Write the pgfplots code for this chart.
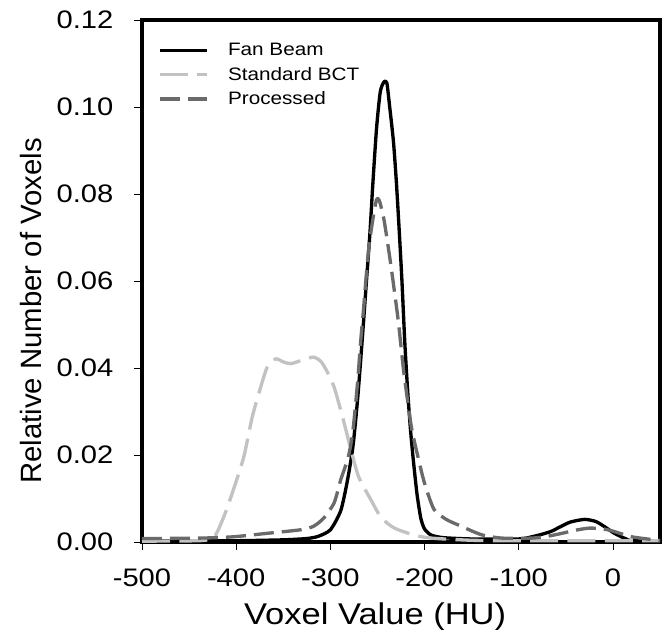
\documentclass[border=0pt]{standalone}
\usepackage{pgfplots}
\pgfplotsset{compat=1.18}
\usepackage{fontspec}
\setmainfont{Liberation Sans}
\newfontfamily\hfont[FakeStretch=1.15]{Liberation Sans}
\definecolor{bctgray}{HTML}{C2C2C2}
\definecolor{procgray}{HTML}{6A6A6A}
\begin{document}
\begin{tikzpicture}
\begin{axis}[
  name=ax,
  scale only axis,
  width=388.5pt, height=391.5pt,
  xmin=-500, xmax=50, ymin=0, ymax=0.12,
  xtick={-500,-400,-300,-200,-100,0},
  xticklabels={-500,-400,-300,-200,-100,0},
  ytick={0,0.02,0.04,0.06,0.08,0.10,0.12},
  yticklabels={0.00,0.02,0.04,0.06,0.08,0.10,0.12},
  tick pos=left, tick align=outside,
  major tick length=6pt,
  tick style={black, line width=0.6pt},
  axis line style={line width=3pt},
  ticklabel style={font=\hfont\fontsize{19}{21}\selectfont},
  xticklabel style={yshift=-10.5pt},
  yticklabel style={xshift=-12pt},
  xlabel={Voxel Value (HU)},
  ylabel={Relative Number of Voxels},
  xlabel style={font=\hfont\fontsize{22.5}{24}\selectfont, at={(axis description cs:0.45,-0.1575)}, anchor=base},
  ylabel style={font=\fontsize{22}{24}\selectfont, at={(axis description cs:-0.214,0.4425)}, anchor=center, rotate=0},
  legend style={at={(axis description cs:0.026,0.966)}, anchor=north west,
    draw=none, fill=none, font=\hfont\fontsize{13.5}{15}\selectfont,
    row sep=3pt, inner sep=2pt},
  legend cell align=left,
  legend image code/.code={\draw[#1] (0pt,0pt) -- (35pt,0pt); \path[draw=none] (0pt,0pt) -- (49pt,0pt);},
  every axis plot/.append style={line width=2.5pt, line join=round},
]
\addplot[black, smooth, tension=0.4] coordinates {
(-500,0.0003) (-450,0.0003) (-400,0.0003) (-350,0.0005) (-325,0.0008)
(-313,0.0013) (-300,0.0028) (-289,0.0072) (-282,0.014) (-276,0.022)
(-271,0.033) (-266,0.047) (-262,0.059) (-258,0.071) (-255,0.082)
(-251,0.095) (-247,0.1035) (-243,0.1058) (-240,0.1055) (-237,0.100)
(-233,0.092) (-230,0.083) (-227,0.072) (-224,0.060) (-221,0.046)
(-218,0.035) (-215,0.026) (-212,0.019) (-208,0.011) (-204,0.0055)
(-200,0.003) (-193,0.0016) (-180,0.001) (-150,0.0007) (-100,0.0007)
(-86,0.0012) (-75,0.0018) (-65,0.0025) (-55,0.0036) (-45,0.0046)
(-30,0.0052) (-18,0.0047) (-8,0.0034) (0,0.0022) (6,0.0015)
(13,0.0008) (20,0.0003) (50,0.0002)
};
\addlegendentry{Fan Beam}
\addplot[bctgray, smooth, tension=0.4, dash pattern=on 21pt off 7pt] coordinates {
(-500,0.0002) (-440,0.0003) (-425,0.0008) (-419,0.0028) (-411,0.007)
(-403,0.012) (-392,0.0195) (-383,0.0287) (-374,0.0356) (-367,0.0402)
(-358,0.0421) (-350,0.0414) (-342,0.0410) (-330,0.0418) (-318,0.0425)
(-310,0.0415) (-303,0.039) (-296,0.0356) (-287,0.0287) (-278,0.0211)
(-270,0.015) (-257,0.0097) (-246,0.0056) (-232,0.0032) (-211,0.0016)
(-193,0.0009) (-150,0.0004) (-100,0.0003) (50,0.0003)
};
\addlegendentry{Standard BCT}
\addplot[procgray, smooth, tension=0.4, dash pattern=on 15pt off 6pt] coordinates {
(-500,0.0008) (-438,0.0009) (-403,0.0012) (-367,0.002) (-332,0.0028)
(-318,0.0036) (-307,0.0055) (-296,0.009) (-289,0.0143) (-281,0.0195)
(-276,0.0257) (-271,0.037) (-268,0.0457) (-265,0.053) (-262,0.061)
(-259,0.068) (-255,0.074) (-251,0.0787) (-248,0.0785) (-243,0.074)
(-236,0.064) (-228,0.051) (-222,0.039) (-214,0.0265) (-207,0.0196)
(-200,0.0135) (-190,0.0075) (-177,0.0052) (-164,0.0039) (-140,0.0017)
(-118,0.0009) (-86,0.0009) (-70,0.0013) (-54,0.002) (-40,0.0027)
(-25,0.0032) (-10,0.003) (0,0.0025) (20,0.0012) (44,0.0005) (50,0.0004)
};
\addlegendentry{Processed}
\end{axis}
\pgfresetboundingbox
\path ([shift={(-106.5pt,-65.25pt)}]ax.south west) rectangle ([shift={(1.5pt,15pt)}]ax.north east);
\end{tikzpicture}
\end{document}
